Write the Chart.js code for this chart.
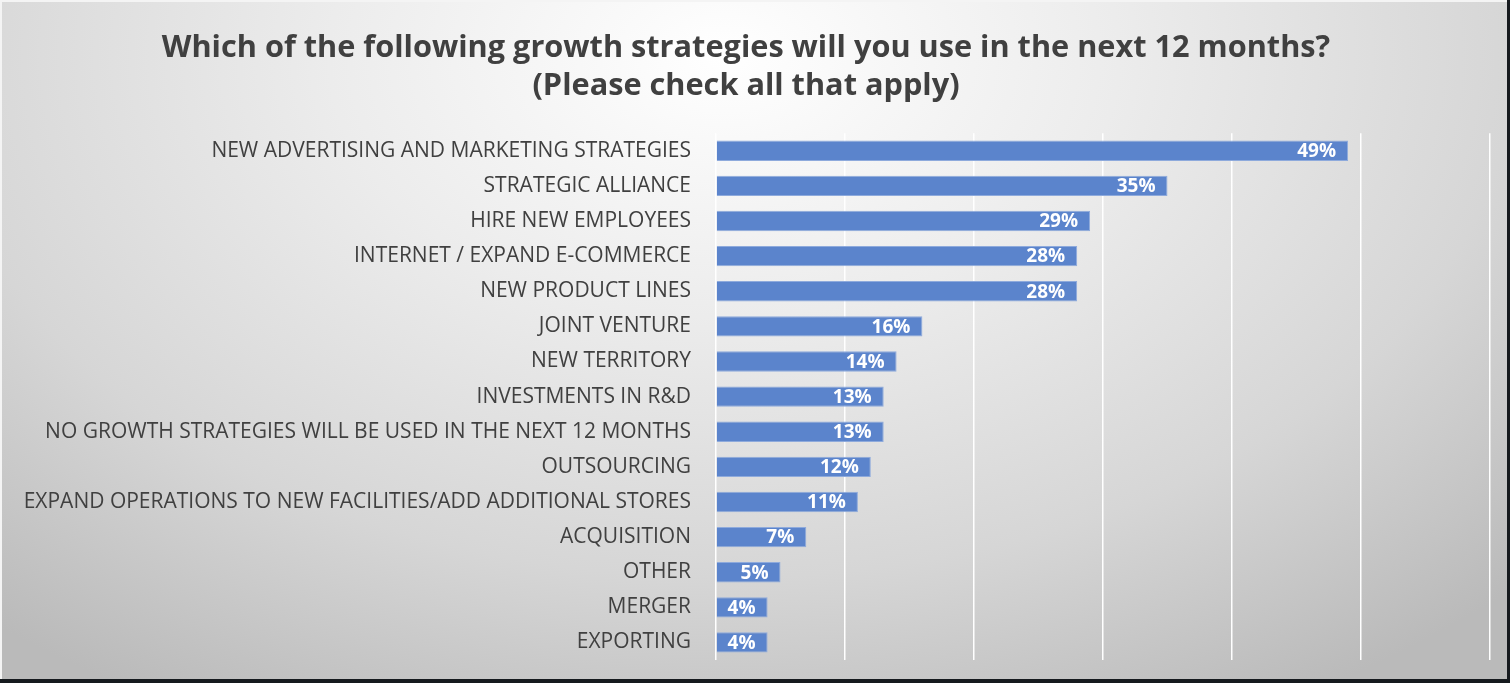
<!DOCTYPE html>
<html>
<head>
<meta charset="utf-8">
<script src="https://cdn.jsdelivr.net/npm/chart.js@4.4.0/dist/chart.umd.min.js"></script>
<style>
  html, body { margin: 0; padding: 0; background: #161a1e; }
  #frame {
    position: absolute; left: 0; top: 0;
    width: 1505px; height: 677px;
    border-left: 2px solid #f4f4f4;
    border-top: 2px solid #f4f4f4;
    background: radial-gradient(ellipse 75% 110% at 48% 8%, #ffffff 0%, #ececec 35%, #d6d6d6 70%, #bababa 100%);
  }
  #wrap { position: absolute; left: 0; top: 0; width: 1505px; height: 677px; }
</style>
</head>
<body>
<div id="frame"><div id="wrap"><canvas id="growthChart"></canvas></div></div>
<script>
// Estratégias de crescimento e percentual de respostas
const strategies = [
    'NEW ADVERTISING AND MARKETING STRATEGIES',
    'STRATEGIC ALLIANCE',
    'HIRE NEW EMPLOYEES',
    'INTERNET / EXPAND E-COMMERCE',
    'NEW PRODUCT LINES',
    'JOINT VENTURE',
    'NEW TERRITORY',
    'INVESTMENTS IN R&D',
    'NO GROWTH STRATEGIES WILL BE USED IN THE NEXT 12 MONTHS',
    'OUTSOURCING',
    'EXPAND OPERATIONS TO NEW FACILITIES/ADD ADDITIONAL STORES',
    'ACQUISITION',
    'OTHER',
    'MERGER',
    'EXPORTING'
];
const percentages = [49, 35, 29, 28, 28, 16, 14, 13, 13, 12, 11, 7, 5, 4, 4];
const chartTitle = [
    'Which of the following growth strategies will you use in the next 12 months?',
    '(Please check all that apply)'
];

const colors = {
    bar: '#5b84cc',
    barBorder: '#8eaadc',
    text: '#404040',
    grid: '#ffffff'
};

const FONT = "'Open Sans', 'Liberation Sans', sans-serif";

// Rótulos de valor dentro da ponta de cada barra
const valueLabels = {
    id: 'valueLabels',
    afterDatasetsDraw(chart) {
        const ctx = chart.ctx;
        const meta = chart.getDatasetMeta(0);
        ctx.save();
        ctx.font = `bold 19px ${FONT}`;
        ctx.fillStyle = '#ffffff';
        ctx.textAlign = 'right';
        ctx.textBaseline = 'middle';
        meta.data.forEach((bar, i) => {
            ctx.fillText(percentages[i] + '%', bar.x - 12, bar.y + 1);
        });
        ctx.restore();
    }
};

new Chart(document.getElementById('growthChart'), {
    type: 'bar',
    data: {
        labels: strategies,
        datasets: [{
            data: percentages,
            backgroundColor: colors.bar,
            borderColor: colors.barBorder,
            borderWidth: 1,
            barPercentage: 0.58,
            categoryPercentage: 1
        }]
    },
    options: {
        indexAxis: 'y',
        responsive: true,
        maintainAspectRatio: false,
        animation: false,
        layout: { padding: { left: 0, right: 17, top: 0, bottom: 19 } },
        plugins: {
            legend: { display: false },
            tooltip: { enabled: false },
            title: {
                display: true,
                text: chartTitle,
                color: colors.text,
                font: { family: FONT, size: 30.7, weight: 'bold', lineHeight: 1.24 },
                padding: { top: 27, bottom: 28 }
            }
        },
        scales: {
            x: {
                min: 0,
                max: 60,
                afterFit(scale) { scale.height = 0; },
                ticks: { display: false, stepSize: 10 },
                grid: { color: colors.grid, lineWidth: 1.5, drawTicks: false },
                border: { display: false }
            },
            y: {
                afterFit(scale) {
                    // largura fixa e sem folga extra acima/abaixo dos rótulos
                    scale.width = 714;
                    scale.paddingTop = 0;
                    scale.paddingBottom = 0;
                },
                ticks: {
                    color: colors.text,
                    padding: 17,
                    font: { family: FONT, size: 21 }
                },
                grid: { display: false },
                border: { display: false }
            }
        }
    },
    plugins: [valueLabels]
});
</script>
</body>
</html>
